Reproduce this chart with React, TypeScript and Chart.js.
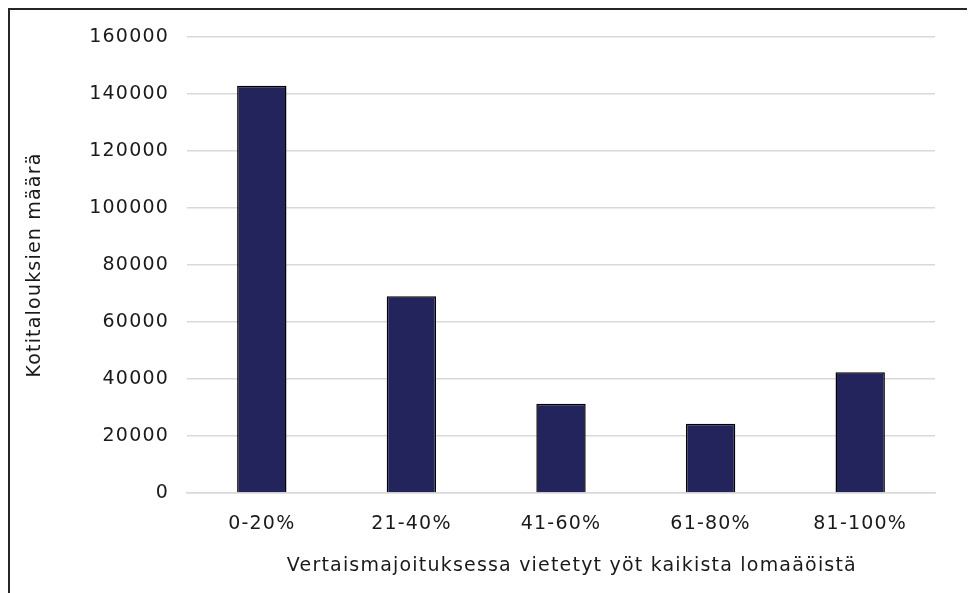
import React, { useEffect, useRef } from "react";
import { Chart, registerables } from "chart.js";

Chart.register(...registerables);

const categories = ["0-20%", "21-40%", "41-60%", "61-80%", "81-100%"];
const households = [142900, 69000, 31300, 24300, 42400];
const yMax = 160000;
const yStep = 20000;
const yTitle = "Kotitalouksien määrä";
const xTitle = "\u00a0\u00a0\u00a0Vertaismajoituksessa vietetyt yöt kaikista lomaäöistä";

const FONT = "'DejaVu Sans', sans-serif";
const FS = 19;
const CW = 990;
const CH = 600;
const TEXT = "#1a1a1a";

const spacing = {
  id: "spacing",
  beforeUpdate(chart: any) {
    chart.ctx.letterSpacing = "1.2px";
  },
  beforeDraw(chart: any) {
    chart.ctx.letterSpacing = "1.2px";
  },
};

export default function App() {
  const ref = useRef<HTMLCanvasElement | null>(null);
  useEffect(() => {
    if (!ref.current) return;
    const chart = new Chart(ref.current, {
      type: "bar",
      data: {
        labels: categories,
        datasets: [
          {
            data: households,
            backgroundColor: "#23245c",
            borderColor: "#000000",
            borderWidth: 1.5,
            categoryPercentage: 1,
            barPercentage: 0.33,
          },
        ],
      },
      plugins: [spacing],
      options: {
        animation: false,
        responsive: false,
        maintainAspectRatio: false,
        layout: { padding: { left: 0, right: CW - 925, top: 27, bottom: 0 } },
        plugins: { legend: { display: false }, tooltip: { enabled: false } },
        scales: {
          x: {
            grid: { display: false, drawTicks: false },
            border: { display: true, color: "#d9d9d9", width: 1.5 },
            ticks: { color: TEXT, font: { family: FONT, size: FS }, padding: 20 },
            title: {
              display: true,
              text: xTitle,
              color: TEXT,
              font: { family: FONT, size: FS },
              padding: { top: 0, bottom: 33 },
            },
            afterFit: (s: any) => {
              s.height = CH - 483;
              s.paddingLeft = 0;
              s.paddingRight = 0;
            },
          },
          y: {
            min: 0,
            max: yMax,
            grid: { color: "#d9d9d9", lineWidth: 1.5, drawTicks: false },
            border: { display: false },
            ticks: {
              stepSize: yStep,
              color: TEXT,
              font: { family: FONT, size: FS },
              padding: 18,
              callback: (v: any) => String(v),
            },
            title: {
              display: true,
              text: yTitle,
              color: TEXT,
              font: { family: FONT, size: FS },
              padding: { top: 14, bottom: 0 },
            },
            afterFit: (s: any) => {
              s.width = 177;
              s.paddingTop = 0;
              s.paddingBottom = 0;
            },
          },
        },
      },
    });
    return () => chart.destroy();
  }, []);
  return (
    <div
      style={{
        width: CW,
        height: CH,
        border: "2px solid #262626",
      }}
    >
      <canvas ref={ref} width={CW} height={CH} style={{ display: "block" }} />
    </div>
  );
}
